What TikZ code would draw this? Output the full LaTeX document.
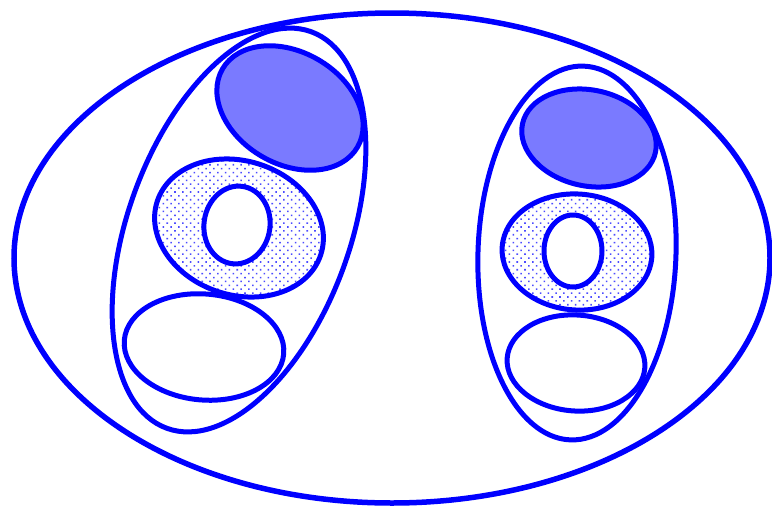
\documentclass[tikz,border=0pt]{standalone}
\usetikzlibrary{patterns.meta}

\begin{document}
\begin{tikzpicture}[x=1pt, y=-1pt,
  setline/.style={draw=blue, line width=5pt},
  shadedset/.style={setline, fill=blue!52},
  dotset/.style={setline, pattern={Dots[distance=5.5pt, radius=1.1pt, angle=45]}, pattern color=blue!70},
  holeset/.style={setline, fill=white}
]
\useasboundingbox (0,0) rectangle (772,507);

% whole set
\draw[setline, line width=5.5pt] (392,258) ellipse [x radius=378, y radius=245];

% left part
\draw[setline, rotate around={-20:(239,230)}] (239,230) ellipse [x radius=111, y radius=211];
\draw[shadedset, rotate around={-30:(290,108)}] (290,108) ellipse [x radius=78, y radius=56];
\draw[dotset, rotate around={-18:(239,228)}] (239,228) ellipse [x radius=86, y radius=67];
\draw[holeset, rotate around={-8:(237,225)}] (237,225) ellipse [x radius=33, y radius=39];
\draw[setline, rotate around={-5:(204,347)}] (204,347) ellipse [x radius=80, y radius=53];

% right part
\draw[setline, rotate around={-2:(577,253)}] (577,253) ellipse [x radius=99, y radius=187];
\draw[shadedset, rotate around={-12:(589,138)}] (589,138) ellipse [x radius=68, y radius=48];
\draw[dotset, rotate around={-4:(577,252)}] (577,252) ellipse [x radius=75, y radius=58];
\draw[holeset] (573,251) ellipse [x radius=29, y radius=36];
\draw[setline, rotate around={-4:(576,363)}] (576,363) ellipse [x radius=69, y radius=48];

\end{tikzpicture}
\end{document}
